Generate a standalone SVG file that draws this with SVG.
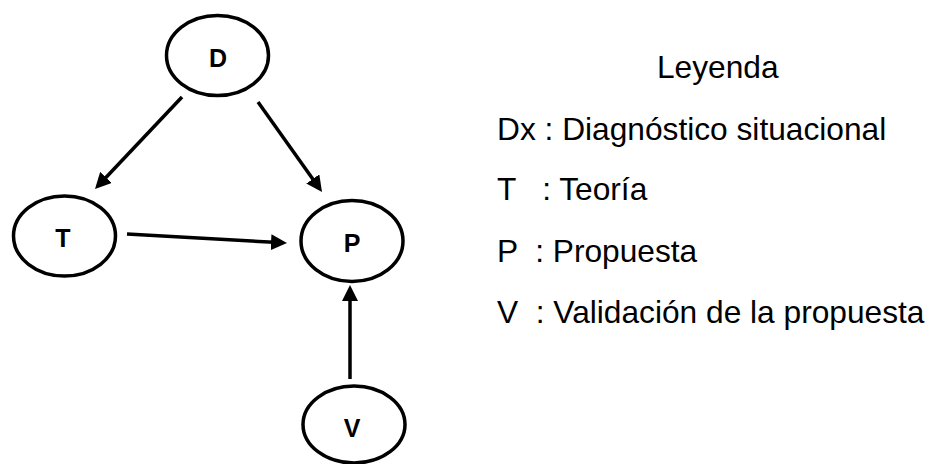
<svg xmlns="http://www.w3.org/2000/svg" width="933" height="464" viewBox="0 0 933 464">
<style>
.node ellipse{fill:#fff;stroke:#000;stroke-width:3.5}
.node text{font-family:"Liberation Sans",Arial,sans-serif;font-weight:bold;font-size:25px;text-anchor:middle;fill:#000}
.edge{stroke:#000;stroke-width:3.5;fill:none;marker-end:url(#ah)}
.leg{font-family:"Liberation Sans",Arial,sans-serif;font-size:31.7px;fill:#000;white-space:pre}
</style>
<defs>
<marker id="ah" markerUnits="userSpaceOnUse" markerWidth="16" markerHeight="16" refX="8" refY="8" orient="auto" viewBox="0 0 16 16">
<path d="M0,0 L16,8 L0,16 z" fill="#000"/>
</marker>
</defs>
<rect width="933" height="464" fill="#fff"/>
<g id="connectors">
<line class="edge" x1="182" y1="97" x2="100.5" y2="183.2"/>
<line class="edge" x1="258" y1="102" x2="317.4" y2="185.5"/>
<line class="edge" x1="127" y1="234" x2="279" y2="242.6"/>
<line class="edge" x1="350" y1="379" x2="350" y2="293"/>
</g>
<g id="node-D" class="node"><ellipse cx="217.5" cy="55.5" rx="51" ry="40"/><text x="218" y="67">D</text></g>
<g id="node-T" class="node"><ellipse cx="64.5" cy="236" rx="51" ry="40"/><text x="63" y="247">T</text></g>
<g id="node-P" class="node"><ellipse cx="352" cy="241" rx="51" ry="40.5"/><text x="352" y="252">P</text></g>
<g id="node-V" class="node"><ellipse cx="354" cy="424.5" rx="51" ry="38.5"/><text x="352" y="437">V</text></g>
<g id="legend">
<text class="leg" x="657" y="78">Leyenda</text>
<text class="leg" x="497" y="140" xml:space="preserve">Dx : Diagnóstico situacional</text>
<text class="leg" x="497" y="200" xml:space="preserve">T   : Teoría</text>
<text class="leg" x="497" y="262" xml:space="preserve">P  : Propuesta</text>
<text class="leg" x="497" y="323" xml:space="preserve">V  : Validación de la propuesta</text>
</g>
</svg>
